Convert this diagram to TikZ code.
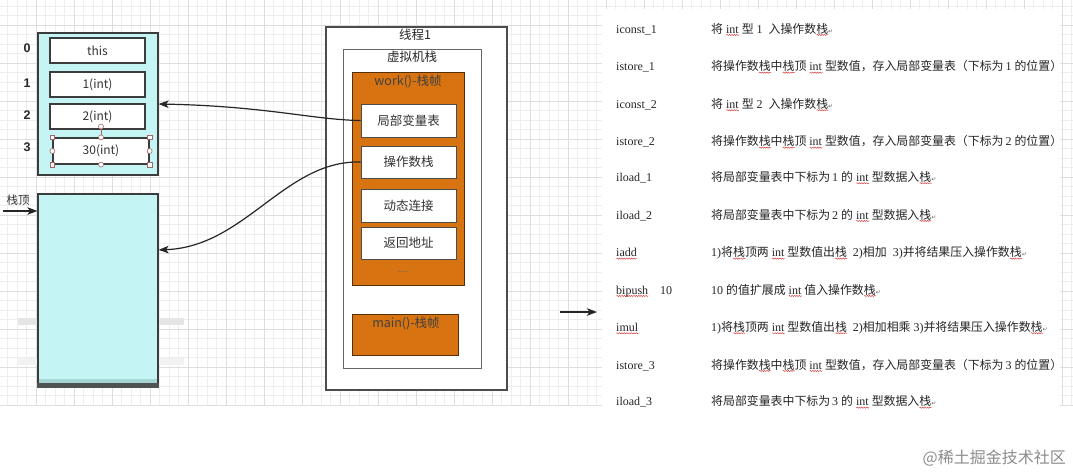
\documentclass[tikz,border=0pt]{standalone}
\usepackage{fontspec}
\setmainfont{Liberation Serif}
\newfontfamily\cjk{Noto Sans CJK SC}
\newfontfamily\lsans{Liberation Sans}
\newfontfamily\djv{DejaVu Sans}
\usetikzlibrary{arrows.meta,decorations.pathmorphing}
\definecolor{cyanfill}{RGB}{196,244,243}
\definecolor{orangefill}{RGB}{216,115,17}
\definecolor{edgec}{RGB}{60,60,60}
\definecolor{gridmin}{RGB}{238,238,238}
\definecolor{gridmaj}{RGB}{222,222,222}
\definecolor{handlec}{RGB}{170,100,100}
\definecolor{squig}{RGB}{215,70,70}
\newsavebox\sqbox
\newcommand\zh[1]{{\cjk\fontsize{11.9}{12}\selectfont #1}}
\newcommand\sq[1]{\sbox\sqbox{#1}\rlap{\raisebox{-2.8pt}{\tikz[x=1pt,y=1pt]\draw[squig,line width=0.5pt,decorate,decoration={snake,amplitude=0.6pt,segment length=2.4pt}] (0pt,0pt)--(\wd\sqbox,0pt);}}\usebox\sqbox}
\newcommand\parmark{{\color{black!60}\djv\fontsize{6}{6}\selectfont ↵}}
\begin{document}
\begin{tikzpicture}[x=1pt,y=-1pt,
  gridminor/.style={draw=gridmin,line width=0.6pt},
  gridmajor/.style={draw=gridmaj,line width=0.8pt},
  cyanbox/.style={draw=edgec,fill=cyanfill,line width=1.2pt,inner sep=0pt},
  slot/.style={draw=edgec,fill=white,line width=1.2pt,inner sep=0pt,minimum width=95,minimum height=25,font=\cjk\fontsize{12}{12}\selectfont,text=black!80},
  idx/.style={font=\lsans\bfseries\fontsize{12.5}{12.5}\selectfont,text=black!85,inner sep=0pt},
  frame/.style={draw=black!70,fill=white,line width=1.5pt,inner sep=0pt},
  vmframe/.style={draw=black!60,fill=white,line width=1pt,inner sep=0pt},
  orangebox/.style={draw=black!60!orangefill,fill=orangefill,line width=1pt,inner sep=0pt},
  whitebox/.style={draw=black!70,fill=white,line width=1pt,inner sep=0pt,minimum width=95,font=\cjk\fontsize{12.5}{12.5}\selectfont,text=black!80},
  lbl/.style={font=\cjk\fontsize{12.5}{12.5}\selectfont,text=black!85,inner sep=0pt},
  handlesq/.style={draw=handlec,fill=white,line width=0.6pt,minimum size=4.5pt,inner sep=0pt},
  handleci/.style={draw=handlec,fill=white,line width=0.6pt,circle,minimum size=5pt,inner sep=0pt},
  conn/.style={draw=black!85,line width=1.2pt,-{Stealth[length=10pt,width=7.5pt,inset=2.5pt]}},
  instr/.style={anchor=base west,inner sep=0pt,font=\fontsize{12}{12}\selectfont,text=black!85},
  desc/.style={anchor=base west,inner sep=0pt,font=\fontsize{12}{12}\selectfont,text=black!85}]
\useasboundingbox (0,0) rectangle (1073,475);
\fill[white] (0,0) rectangle (1073,475);
% grid
\foreach \k in {0,...,112} \draw[gridminor] ({7.5+9.5*\k},0) -- ({7.5+9.5*\k},405);
\foreach \k in {0,...,42} \draw[gridminor] (0,{6+9.5*\k}) -- (1073,{6+9.5*\k});
\foreach \k in {0,...,28} \draw[gridmajor] ({36+38*\k},0) -- ({36+38*\k},405);
\foreach \k in {0,...,10} \draw[gridmajor] (0,{25+38*\k}) -- (1073,{25+38*\k});
\fill[white] (602,9) rectangle (1060,430);
% faint bands
\fill[black!10] (18,318) rectangle (184,325);
\fill[black!5] (18,358) rectangle (184,365);

% local variable table
\node[cyanbox,minimum width=120,minimum height=142] (lvt) at (98,104) {};
\node[slot] (s0) at (97.5,50.5) {this};
\node[slot] (s1) at (97.5,84.5) {1(int)};
\node[slot] (s2) at (97.5,116.5) {2(int)};
\node[slot,minimum width=96,minimum height=26] (s3) at (101,151) {30(int)};
\node[idx] (i0) at (27,48) {0};
\node[idx] (i1) at (27,83) {1};
\node[idx] (i2) at (27,115) {2};
\node[idx] (i3) at (27,147) {3};
% selection handles
\node[handleci] (rot) at (101,126.5) {};
\draw[handlec,line width=0.6pt] (rot.south) -- (s3.north);
\foreach \a/\n in {north west/hnw,north east/hne,south west/hsw,south east/hse}
  \node[handlesq] (\n) at (s3.\a) {};
\foreach \a/\n in {north/hn,south/hs,west/hw,east/he}
  \node[handleci] (\n) at (s3.\a) {};

% operand stack
\node[cyanbox,minimum width=120,minimum height=193] (opst) at (98,290.5) {};
\fill[fill={rgb,255:red,165;green,212;blue,210}] (38.6,378.5) rectangle (157.4,383);
\fill[fill={rgb,255:red,78;green,84;blue,84}] (37.4,383) rectangle (158.6,387.5);
\node[font=\cjk\fontsize{11.5}{11.5}\selectfont,text=black!80,inner sep=0pt] (top) at (18,200) {栈顶};
\coordinate (topstart) at (3,211);
\draw[conn] (topstart) -- (topstart -| opst.west);

% thread
\node[frame,minimum width=181,minimum height=363] (thread) at (416.5,208.5) {};
\node[lbl] (threadlbl) at (415,35) {线程1};
\node[vmframe,minimum width=138,minimum height=319] (vm) at (412,208.5) {};
\node[lbl] (vmlbl) at (412,57) {虚拟机栈};
\node[orangebox,minimum width=112,minimum height=213] (work) at (408,178.5) {};
\node[lbl,text=black!75] (worklbl) at (408,81) {work()-栈帧};
\node[whitebox,minimum height=33] (lv) at (408.5,120.5) {局部变量表};
\node[whitebox,minimum height=32] (ops) at (408.5,162) {操作数栈};
\node[whitebox,minimum height=33] (dyn) at (408.5,205.5) {动态连接};
\node[whitebox,minimum height=32] (ret) at (408.5,243) {返回地址};
\node[font=\fontsize{7}{7}\selectfont,text=black!60,inner sep=0pt] (dots) at (403,273) {-----};
\node[orangebox,minimum width=106,minimum height=41] (mainf) at (405,334.5) {};
\node[lbl,text=black!75] (mainlbl) at (406,323) {main()-栈帧};

% connectors
\draw[conn] (lv.west) .. controls (315,120) and (265,106) .. (lvt.east);
\draw[conn] (ops.west) .. controls (285,160) and (245,247) .. ([yshift=-56.5pt]opst.north east);

% middle arrow
\coordinate (ma) at (560,312);
\coordinate (mb) at (597,312);
\draw[conn] (ma) -- (mb);

% instruction table
\node[instr] (n1) at (616,33) {iconst\_1};
\node[desc] (d1) at (711,33) {\zh{将} \sq{int} \zh{型} 1\ \ \zh{入操作数\sq{栈}}\parmark};
\node[instr] (n2) at (616,70.7) {istore\_1};
\node[desc] (d2) at (711,70.7) {\zh{将操作数\sq{栈}中\sq{栈}顶} \sq{int} \zh{型数值，存入局部变量表（下标为}\,1 \zh{的位置）}};
\node[instr] (n3) at (616,108.3) {iconst\_2};
\node[desc] (d3) at (711,108.3) {\zh{将} \sq{int} \zh{型} 2\ \ \zh{入操作数\sq{栈}}\parmark};
\node[instr] (n4) at (616,145.7) {istore\_2};
\node[desc] (d4) at (711,145.7) {\zh{将操作数\sq{栈}中\sq{栈}顶} \sq{int} \zh{型数值，存入局部变量表（下标为}\,2 \zh{的位置）}};
\node[instr] (n5) at (616,181.3) {iload\_1};
\node[desc] (d5) at (711,181.3) {\zh{将局部变量表中下标为}\,1 \zh{的} \sq{int} \zh{型数据入\sq{栈}}\parmark};
\node[instr] (n6) at (616,219) {iload\_2};
\node[desc] (d6) at (711,219) {\zh{将局部变量表中下标为}\,2 \zh{的} \sq{int} \zh{型数据入\sq{栈}}\parmark};
\node[instr] (n7) at (616,256.7) {\sq{iadd}};
\node[desc] (d7) at (711,256.7) {1)\zh{将\sq{栈}顶两} \sq{int} \zh{型数值出\sq{栈}}\ \ 2)\zh{相加}\ \ 3)\zh{并将结果压入操作数\sq{栈}}\parmark};
\node[instr] (n8) at (616,294) {\sq{bipush}\hspace{12pt}10};
\node[desc] (d8) at (711,294) {10 \zh{的值扩展成} \sq{int} \zh{值入操作数\sq{栈}}\parmark};
\node[instr] (n9) at (616,331.3) {\sq{imul}};
\node[desc] (d9) at (711,331.3) {1)\zh{将\sq{栈}顶两} \sq{int} \zh{型数值出\sq{栈}}\ \ 2)\zh{相加相乘} 3)\zh{并将结果压入操作数\sq{栈}}\parmark};
\node[instr] (n10) at (616,369) {istore\_3};
\node[desc] (d10) at (711,369) {\zh{将操作数\sq{栈}中\sq{栈}顶} \sq{int} \zh{型数值，存入局部变量表（下标为}\,3 \zh{的位置）}};
\node[instr] (n11) at (616,405.7) {iload\_3};
\node[desc] (d11) at (711,405.7) {\zh{将局部变量表中下标为}\,3 \zh{的} \sq{int} \zh{型数据入\sq{栈}}\parmark};

% watermark
\node[font=\cjk\fontsize{16}{16}\selectfont,text=black!45,inner sep=0pt,anchor=east] (wm) at (1066,458) {@稀土掘金技术社区};
\end{tikzpicture}
\end{document}
